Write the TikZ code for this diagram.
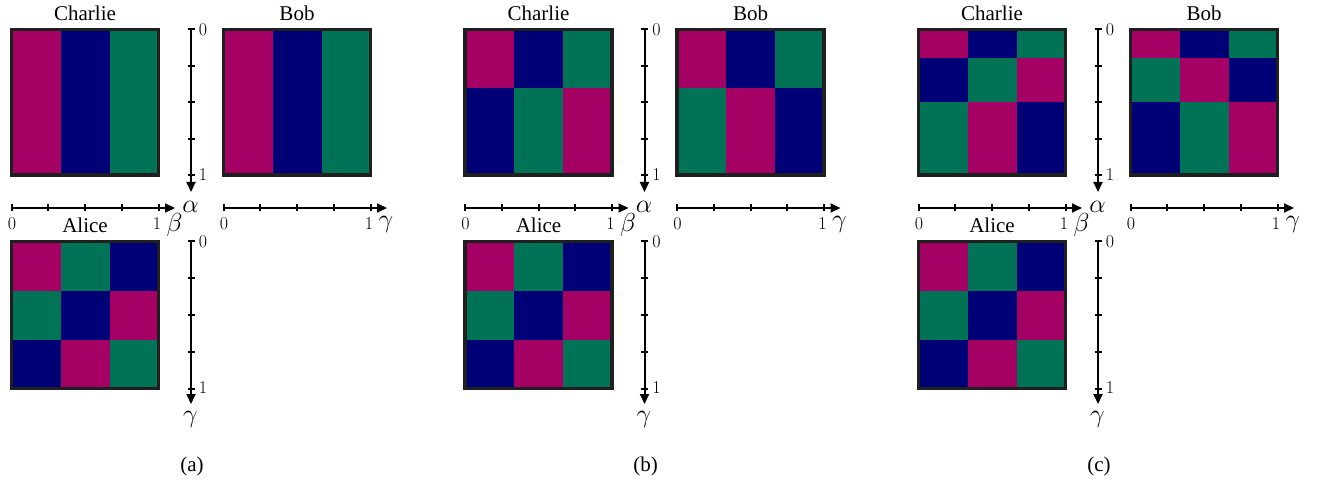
\RequirePackage{fix-cm}
\documentclass[tikz,border=0pt]{standalone}
\usepackage[no-math]{fontspec}
\setmainfont{Liberation Serif}
\usetikzlibrary{arrows.meta}
\definecolor{cmag}{RGB}{165,0,99}
\definecolor{cnavy}{RGB}{0,0,118}
\definecolor{cgreen}{RGB}{0,115,87}
\tikzset{
  cellframe/.style={draw=black!88, line width=3.2pt},
  axisline/.style={line width=2pt, -{Triangle[length=10pt,width=9pt]}},
  tickmark/.style={line width=2pt},
  namelabel/.style={font=\fontsize{21}{25}\selectfont, inner sep=0pt, anchor=base},
  ticklabel/.style={font=\fontsize{18}{21}\selectfont, inner sep=0pt},
  varlabel/.style={font=\fontsize{26}{30}\selectfont, inner sep=0pt},
}
% one row of three cells: x0, y0, y1, colours
\newcommand\rowcells[6]{%
  \fill[#4] (#1,#2) rectangle (#1+49,#3);
  \fill[#5] (#1+49,#2) rectangle (#1+98,#3);
  \fill[#6] (#1+98,#2) rectangle (#1+147,#3);}
\newcommand\panel[3]{%
  #2
  #3
  \rowcells{11.5}{241.5}{290.5}{cmag}{cgreen}{cnavy}
  \rowcells{11.5}{290.5}{339.5}{cgreen}{cnavy}{cmag}
  \rowcells{11.5}{339.5}{388.5}{cnavy}{cmag}{cgreen}
  \draw[cellframe] (11.5,29.5) rectangle (158.5,175);
  \draw[cellframe] (223.5,29.5) rectangle (370.5,175);
  \draw[cellframe] (11.5,241.5) rectangle (158.5,388.5);
  \node[namelabel] (charlie#1) at (85,21) {Charlie};
  \node[namelabel] (bob#1) at (297,21) {Bob};
  \node[namelabel] (alice#1) at (85,233) {Alice};
  % vertical axis alpha
  \coordinate (va0#1) at (191,29.5);
  \coordinate (va1#1) at (191,192);
  \draw[axisline] (va0#1) -- (va1#1);
  \foreach \t in {0,...,4}{\draw[tickmark] (187.5,29.5+\t*36.375) -- (194.5,29.5+\t*36.375);}
  \node[ticklabel] (va0l#1) at (203,29.5) {$0$};
  \node[ticklabel] (va1l#1) at (203,175) {$1$};
  \node[varlabel] (alpha#1) at (190.5,206.5) {$\alpha$};
  % vertical axis gamma
  \coordinate (vg0#1) at (191,241.5);
  \coordinate (vg1#1) at (191,404);
  \draw[axisline] (vg0#1) -- (vg1#1);
  \foreach \t in {0,...,4}{\draw[tickmark] (187.5,241.5+\t*36.75) -- (194.5,241.5+\t*36.75);}
  \node[ticklabel] (vg0l#1) at (203,242) {$0$};
  \node[ticklabel] (vg1l#1) at (203,388) {$1$};
  \node[varlabel] (gammav#1) at (190.5,419) {$\gamma$};
  % horizontal axis beta
  \coordinate (hb0#1) at (11.5,208);
  \coordinate (hb1#1) at (175,208);
  \draw[axisline] (hb0#1) -- (hb1#1);
  \foreach \t in {0,...,4}{\draw[tickmark] (11.5+\t*36.75,204.5) -- (11.5+\t*36.75,211.5);}
  \node[ticklabel] (hb0l#1) at (12,223.5) {$0$};
  \node[ticklabel] (hb1l#1) at (157,223.5) {$1$};
  \node[varlabel] (beta#1) at (174.5,225) {$\beta$};
  % horizontal axis gamma
  \coordinate (hg0#1) at (223.5,208);
  \coordinate (hg1#1) at (387,208);
  \draw[axisline] (hg0#1) -- (hg1#1);
  \foreach \t in {0,...,4}{\draw[tickmark] (223.5+\t*36.75,204.5) -- (223.5+\t*36.75,211.5);}
  \node[ticklabel] (hg0l#1) at (224,223.5) {$0$};
  \node[ticklabel] (hg1l#1) at (369,223.5) {$1$};
  \node[varlabel] (gammah#1) at (386,224.5) {$\gamma$};
  % caption
  \node[namelabel, anchor=center] (cap#1) at (192,466) {(#1)};
}
\begin{document}
\begin{tikzpicture}[x=1pt,y=-1pt]
  \useasboundingbox (0,0) rectangle (1323,481);
  \begin{scope}
    \panel{a}{%
      \rowcells{11.5}{29.5}{175}{cmag}{cnavy}{cgreen}}{%
      \rowcells{223.5}{29.5}{175}{cmag}{cnavy}{cgreen}}
  \end{scope}
  \begin{scope}[xshift=453.5pt]
    \panel{b}{%
      \rowcells{11.5}{29.5}{88}{cmag}{cnavy}{cgreen}
      \rowcells{11.5}{88}{175}{cnavy}{cgreen}{cmag}}{%
      \rowcells{223.5}{29.5}{88}{cmag}{cnavy}{cgreen}
      \rowcells{223.5}{88}{175}{cgreen}{cmag}{cnavy}}
  \end{scope}
  \begin{scope}[xshift=907pt]
    \panel{c}{%
      \rowcells{11.5}{29.5}{58.5}{cmag}{cnavy}{cgreen}
      \rowcells{11.5}{58.5}{102.25}{cnavy}{cgreen}{cmag}
      \rowcells{11.5}{102.25}{175}{cgreen}{cmag}{cnavy}}{%
      \rowcells{223.5}{29.5}{58.5}{cmag}{cnavy}{cgreen}
      \rowcells{223.5}{58.5}{102.25}{cgreen}{cmag}{cnavy}
      \rowcells{223.5}{102.25}{175}{cnavy}{cgreen}{cmag}}
  \end{scope}
\end{tikzpicture}
\end{document}
